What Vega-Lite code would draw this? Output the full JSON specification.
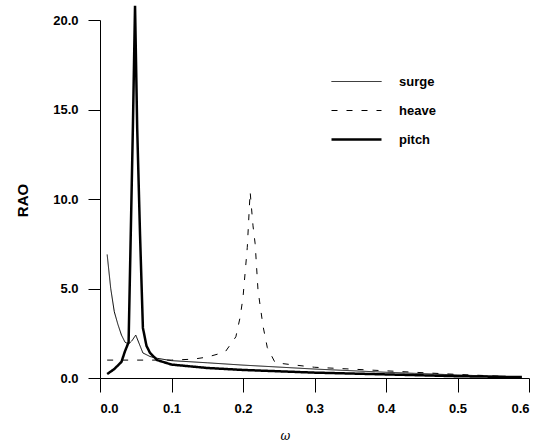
{
  "$schema": "https://vega.github.io/schema/vega-lite/v6.json",
  "width": 429,
  "height": 358,
  "autosize": {"type": "none"},
  "padding": {"left": 100, "top": 20, "right": 10, "bottom": 66},
  "background": "white",
  "config": {
    "view": {"stroke": null},
    "font": "Liberation Sans",
    "axis": {"grid": false, "domainColor": "black", "tickColor": "black", "labelColor": "black", "titleColor": "black", "labelFont": "Liberation Sans", "labelFontWeight": "bold", "labelFontSize": 12}
  },
  "data": {
    "values": [
      {"w": 0.01, "rao": 6.9, "dof": "surge"},
      {"w": 0.015, "rao": 5.0, "dof": "surge"},
      {"w": 0.02, "rao": 3.7, "dof": "surge"},
      {"w": 0.025, "rao": 3.0, "dof": "surge"},
      {"w": 0.03, "rao": 2.4, "dof": "surge"},
      {"w": 0.035, "rao": 2.0, "dof": "surge"},
      {"w": 0.04, "rao": 1.9, "dof": "surge"},
      {"w": 0.045, "rao": 2.1, "dof": "surge"},
      {"w": 0.05, "rao": 2.4, "dof": "surge"},
      {"w": 0.055, "rao": 1.9, "dof": "surge"},
      {"w": 0.06, "rao": 1.4, "dof": "surge"},
      {"w": 0.07, "rao": 1.2, "dof": "surge"},
      {"w": 0.08, "rao": 1.1, "dof": "surge"},
      {"w": 0.1, "rao": 0.97, "dof": "surge"},
      {"w": 0.15, "rao": 0.85, "dof": "surge"},
      {"w": 0.2, "rao": 0.72, "dof": "surge"},
      {"w": 0.3, "rao": 0.5, "dof": "surge"},
      {"w": 0.4, "rao": 0.32, "dof": "surge"},
      {"w": 0.5, "rao": 0.17, "dof": "surge"},
      {"w": 0.59, "rao": 0.05, "dof": "surge"},
      {"w": 0.01, "rao": 1.0, "dof": "heave"},
      {"w": 0.05, "rao": 1.0, "dof": "heave"},
      {"w": 0.1, "rao": 1.0, "dof": "heave"},
      {"w": 0.13, "rao": 1.05, "dof": "heave"},
      {"w": 0.15, "rao": 1.17, "dof": "heave"},
      {"w": 0.175, "rao": 1.45, "dof": "heave"},
      {"w": 0.19, "rao": 2.3, "dof": "heave"},
      {"w": 0.196, "rao": 3.4, "dof": "heave"},
      {"w": 0.2, "rao": 4.5, "dof": "heave"},
      {"w": 0.203, "rao": 5.9, "dof": "heave"},
      {"w": 0.206, "rao": 7.3, "dof": "heave"},
      {"w": 0.21, "rao": 10.4, "dof": "heave"},
      {"w": 0.214, "rao": 8.5, "dof": "heave"},
      {"w": 0.217, "rao": 7.5, "dof": "heave"},
      {"w": 0.221, "rao": 4.9, "dof": "heave"},
      {"w": 0.228, "rao": 2.9, "dof": "heave"},
      {"w": 0.234, "rao": 1.7, "dof": "heave"},
      {"w": 0.245, "rao": 0.85, "dof": "heave"},
      {"w": 0.3, "rao": 0.6, "dof": "heave"},
      {"w": 0.4, "rao": 0.4, "dof": "heave"},
      {"w": 0.5, "rao": 0.2, "dof": "heave"},
      {"w": 0.59, "rao": 0.05, "dof": "heave"},
      {"w": 0.01, "rao": 0.22, "dof": "pitch"},
      {"w": 0.02, "rao": 0.5, "dof": "pitch"},
      {"w": 0.03, "rao": 0.9, "dof": "pitch"},
      {"w": 0.035, "rao": 1.5, "dof": "pitch"},
      {"w": 0.04, "rao": 2.0, "dof": "pitch"},
      {"w": 0.043, "rao": 8.0, "dof": "pitch"},
      {"w": 0.046, "rao": 14.0, "dof": "pitch"},
      {"w": 0.049, "rao": 20.8, "dof": "pitch"},
      {"w": 0.052, "rao": 14.0, "dof": "pitch"},
      {"w": 0.056, "rao": 8.0, "dof": "pitch"},
      {"w": 0.06, "rao": 2.8, "dof": "pitch"},
      {"w": 0.065, "rao": 1.8, "dof": "pitch"},
      {"w": 0.07, "rao": 1.4, "dof": "pitch"},
      {"w": 0.08, "rao": 1.0, "dof": "pitch"},
      {"w": 0.1, "rao": 0.75, "dof": "pitch"},
      {"w": 0.15, "rao": 0.56, "dof": "pitch"},
      {"w": 0.2, "rao": 0.45, "dof": "pitch"},
      {"w": 0.3, "rao": 0.3, "dof": "pitch"},
      {"w": 0.4, "rao": 0.2, "dof": "pitch"},
      {"w": 0.5, "rao": 0.1, "dof": "pitch"},
      {"w": 0.59, "rao": 0.05, "dof": "pitch"}
    ]
  },
  "encoding": {
    "x": {
      "field": "w", "type": "quantitative",
      "scale": {"domain": [0, 0.6], "nice": false, "zero": false},
      "axis": {"values": [0, 0.1, 0.2, 0.3, 0.4, 0.5, 0.6], "format": ".1f", "tickSize": 14, "labelPadding": 10, "labelFontSize": 13, "title": "ω", "titleFont": "DejaVu Serif", "titleFontStyle": "italic", "titleFontWeight": "normal", "titleFontSize": 12, "titleX": 185, "titleY": 52}
    },
    "y": {
      "field": "rao", "type": "quantitative",
      "scale": {"domain": [0, 20], "nice": false},
      "axis": {"values": [0, 5, 10, 15, 20], "format": ".1f", "tickSize": 12, "labelPadding": 10, "labelFontSize": 13, "title": "RAO", "titleFontSize": 15, "titleFontWeight": "bold", "titleX": -78, "titleY": 180, "titleAlign": "center", "titleBaseline": "middle"}
    },
    "strokeDash": {
      "field": "dof", "type": "nominal",
      "scale": {"domain": ["surge", "heave", "pitch"], "range": [[1, 0], [6, 9], [1, 0]]},
      "legend": {
        "title": null, "orient": "none", "legendX": 250, "legendY": 55,
        "symbolType": "stroke", "symbolSize": 2500, "symbolStrokeColor": "black",
        "labelFontSize": 13, "labelFontWeight": "bold", "labelOffset": 36, "rowPadding": 15, "labelColor": "black",
        "encode": {"symbols": {"update": {"strokeWidth": {"signal": "datum.value === 'pitch' ? 2.5 : 1"}}}}
      }
    }
  },
  "layer": [
    {
      "transform": [{"filter": "datum.dof !== 'pitch'"}],
      "mark": {"type": "line", "clip": false, "color": "black", "strokeWidth": 1}
    },
    {
      "transform": [{"filter": "datum.dof === 'pitch'"}],
      "mark": {"type": "line", "clip": false, "color": "black", "strokeWidth": 2.5}
    }
  ]
}
